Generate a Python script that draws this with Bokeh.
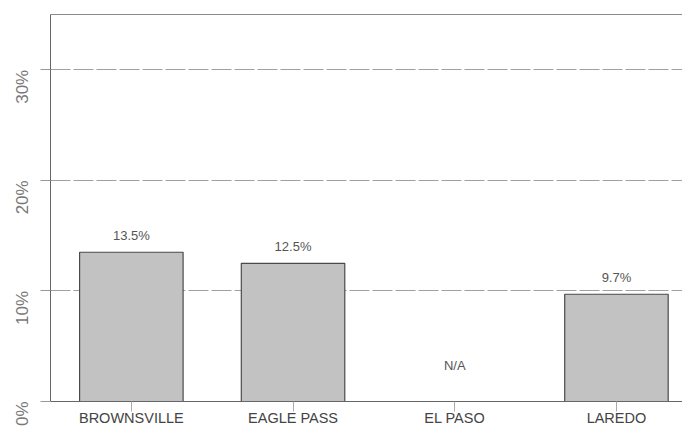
import math
from bokeh.plotting import figure
from bokeh.models import Range1d, FixedTicker, PrintfTickFormatter, ColumnDataSource, LinearAxis
from bokeh.core.properties import value
from bokeh.embed import file_html
from bokeh.resources import INLINE

cities = ["BROWNSVILLE", "EAGLE PASS", "EL PASO", "LAREDO"]
rates = [13.5, 12.5, None, 9.7]
y_ticks = [0, 10, 20, 30]

FONT = "Liberation Sans"

xs = list(range(len(cities)))
bar_x = [x for x, v in zip(xs, rates) if v is not None]
bar_top = [v for v in rates if v is not None]

p = figure(width=682, height=428, output_backend="svg", toolbar_location=None,
           x_range=Range1d(-0.5, -0.5 + 632 / 161.7), y_range=Range1d(0, 35))
p.min_border_left = 50
p.min_border_right = 0
p.min_border_top = 14
p.min_border_bottom = 27
p.background_fill_color = "white"
p.border_fill_color = "white"
p.outline_line_color = None

src = ColumnDataSource(dict(x=bar_x, top=bar_top,
                            lbl=[f"{v:.1f}%" for v in bar_top]))
p.vbar(x="x", top="top", bottom=0, width=0.64, source=src,
       fill_color="#c2c2c2", line_color="#4a4a4a", line_width=1.2)
p.text(x="x", y="top", text="lbl", source=src, text_align="center",
       text_baseline="bottom", y_offset=-9, text_font=value(FONT),
       text_font_size="13px", text_color="#555555")

na_x = [x for x, v in zip(xs, rates) if v is None]
p.text(x=na_x, y=[3.25] * len(na_x), text=["N/A"] * len(na_x), text_align="center",
       text_baseline="middle", text_font=value(FONT), text_font_size="13px",
       text_color="#555555")

p.xaxis.ticker = FixedTicker(ticks=xs)
p.xaxis.major_label_overrides = {i: c for i, c in enumerate(cities)}
p.xaxis.major_label_text_font = FONT
p.xaxis.major_label_text_font_size = "14.5px"
p.xaxis.major_label_text_color = "#444444"
p.xaxis.major_label_standoff = -2
p.xaxis.major_tick_out = 10
p.xaxis.major_tick_in = 0
p.xaxis.major_tick_line_color = "#aaaaaa"
p.xaxis.minor_tick_line_color = None
p.xaxis.axis_line_color = "#666666"
p.xgrid.grid_line_color = None

top_axis = LinearAxis(ticker=FixedTicker(ticks=[]), major_label_text_font_size="0px",
                      axis_line_color="#8a8a8a", major_tick_line_color=None,
                      minor_tick_line_color=None)
p.add_layout(top_axis, "above")

p.yaxis.ticker = FixedTicker(ticks=y_ticks)
p.yaxis.formatter = PrintfTickFormatter(format="%d%%")
p.yaxis.major_label_orientation = math.pi / 2
p.yaxis.major_label_text_font = FONT
p.yaxis.major_label_text_font_size = "17px"
p.yaxis.major_label_text_color = "#777777"
p.yaxis.major_label_standoff = 18
p.yaxis.major_tick_out = 10
p.yaxis.major_tick_in = 0
p.yaxis.major_tick_line_color = "#999999"
p.yaxis.minor_tick_line_color = None
p.yaxis.axis_line_color = "#666666"
p.ygrid.grid_line_color = "#a0a0a0"
p.ygrid.grid_line_dash = "20 3"

open("out.html", "w").write(file_html(p, INLINE))
